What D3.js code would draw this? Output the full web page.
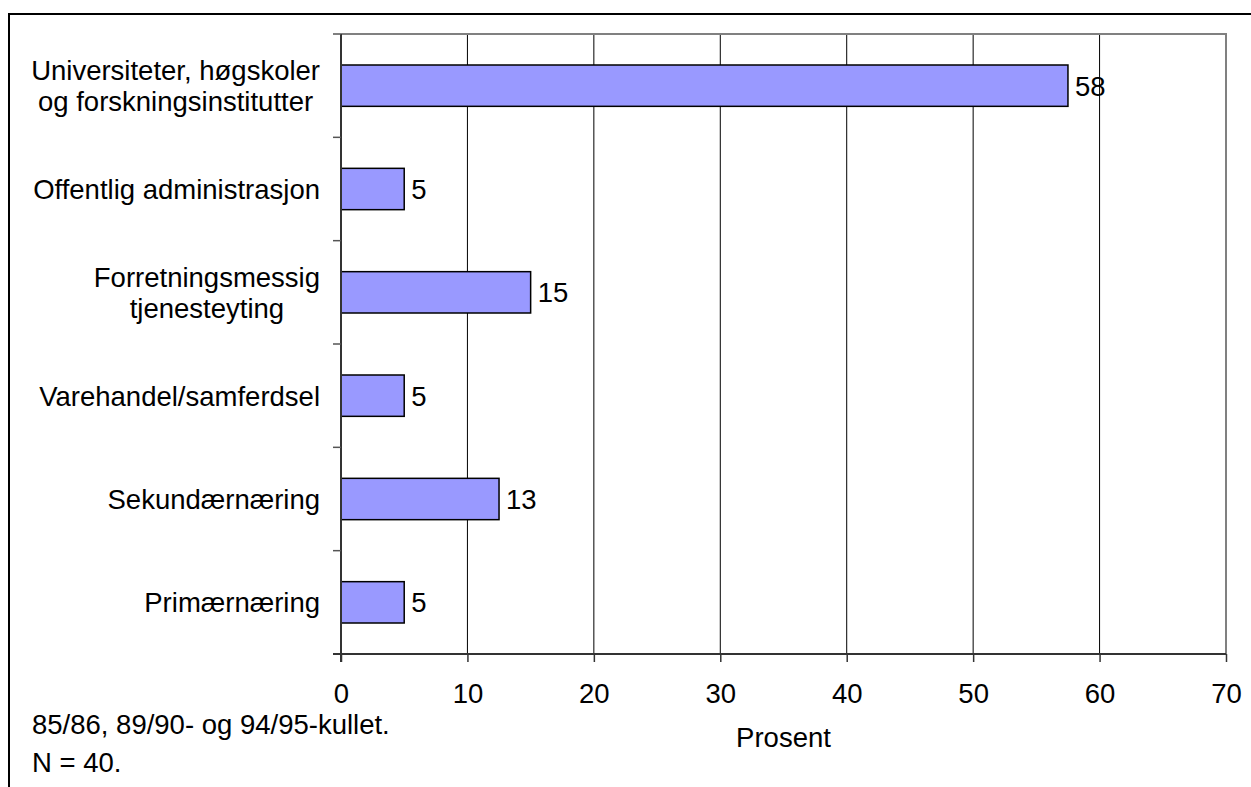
<!DOCTYPE html>
<html><head><meta charset="utf-8">
<script src="https://cdn.jsdelivr.net/npm/d3@7"></script>
<style>body{margin:0;background:#fff;} svg{display:block;} text{font-family:"Liberation Sans",Arial,sans-serif;fill:#000;}</style>
</head><body>
<svg id="c" width="1251" height="787"></svg>
<script>
const categories = [
  ["Universiteter, høgskoler", "og forskningsinstitutter"],
  ["Offentlig administrasjon"],
  ["Forretningsmessig", "tjenesteyting"],
  ["Varehandel/samferdsel"],
  ["Sekundærnæring"],
  ["Primærnæring"]
];
const values = [57.5, 5, 15, 5, 12.5, 5];
const valueLabels = ["58", "5", "15", "5", "13", "5"];
const xTicks = [0, 10, 20, 30, 40, 50, 60, 70];
const xTitle = "Prosent";
const notes = ["85/86, 89/90- og 94/95-kullet.", "N = 40."];

const svg = d3.select("#c");
const fs = 27.5;
const L = 341, R = 1226, T = 34, B = 654;
const x = d3.scaleLinear().domain([0, 70]).range([L, R]);
const y = d3.scaleBand().domain(d3.range(categories.length)).range([T, B]).paddingInner(0.6).paddingOuter(0.3);
const yb = d3.scaleLinear().domain([0, categories.length]).range([T, B]);

// outer frame
svg.append("path").attr("d", `M9,787 L9,14 L1251,14`).attr("fill", "none").attr("stroke", "#000").attr("stroke-width", 2);

// gridlines
svg.append("g").selectAll("line").data(xTicks.filter(d => d > 0 && d < 70)).join("line")
  .attr("x1", d => x(d)).attr("x2", d => x(d)).attr("y1", T).attr("y2", B)
  .attr("stroke", "#000").attr("stroke-width", 1);

// plot border top/right
svg.append("path").attr("d", `M${L},${T} L${R},${T} L${R},${B}`).attr("fill", "none").attr("stroke", "#808080").attr("stroke-width", 2);

// bars
svg.append("g").selectAll("rect").data(values).join("rect")
  .attr("x", x(0)).attr("y", (d, i) => y(i))
  .attr("width", d => x(d) - x(0)).attr("height", y.bandwidth())
  .attr("fill", "#9999ff").attr("stroke", "#000").attr("stroke-width", 1.5);

// value labels
svg.append("g").selectAll("text").data(values).join("text")
  .attr("x", d => x(d) + 7).attr("y", (d, i) => y(i) + y.bandwidth() / 2 + fs * 0.36)
  .attr("font-size", fs).text((d, i) => valueLabels[i]);

// x axis
const xAxis = d3.axisBottom(x).tickValues(xTicks).tickSize(8).tickPadding(21).tickFormat(d3.format("d"));
const gx = svg.append("g").attr("transform", `translate(0,${B})`).call(xAxis);
gx.select(".domain").remove();
gx.selectAll(".tick line").attr("stroke", "#333").attr("stroke-width", 1.5);
gx.selectAll(".tick text").attr("font-size", fs).attr("font-family", "Liberation Sans, Arial, sans-serif").attr("fill", "#000");
svg.append("line").attr("x1", L - 8).attr("x2", R).attr("y1", B).attr("y2", B).attr("stroke", "#333").attr("stroke-width", 2);

// y axis line and ticks at boundaries
svg.append("line").attr("x1", L).attr("x2", L).attr("y1", T).attr("y2", B + 8).attr("stroke", "#333").attr("stroke-width", 2);
svg.append("g").selectAll("line").data(d3.range(categories.length)).join("line")
  .attr("x1", L - 8).attr("x2", L).attr("y1", d => yb(d)).attr("y2", d => yb(d))
  .attr("stroke", "#555").attr("stroke-width", 1.5);

// category labels
const lineH = 31;
categories.forEach((lines, i) => {
  const cy = y(i) + y.bandwidth() / 2;
  const g = svg.append("g");
  const ts = lines.map((t, j) => g.append("text").attr("font-size", fs).attr("text-anchor", "middle")
    .attr("y", cy + (j - (lines.length - 1) / 2) * lineH + fs * 0.36).text(t));
  const w = d3.max(ts, t => t.node().getComputedTextLength());
  ts.forEach(t => t.attr("x", 320 - w / 2));
});

// x title
svg.append("text").attr("x", (L + R) / 2).attr("y", 747).attr("text-anchor", "middle").attr("font-size", fs).text(xTitle);

// notes
svg.append("g").selectAll("text").data(notes).join("text")
  .attr("x", 32).attr("y", (d, i) => 734 + i * 38).attr("font-size", fs).text(d => d);
</script>
</body></html>
